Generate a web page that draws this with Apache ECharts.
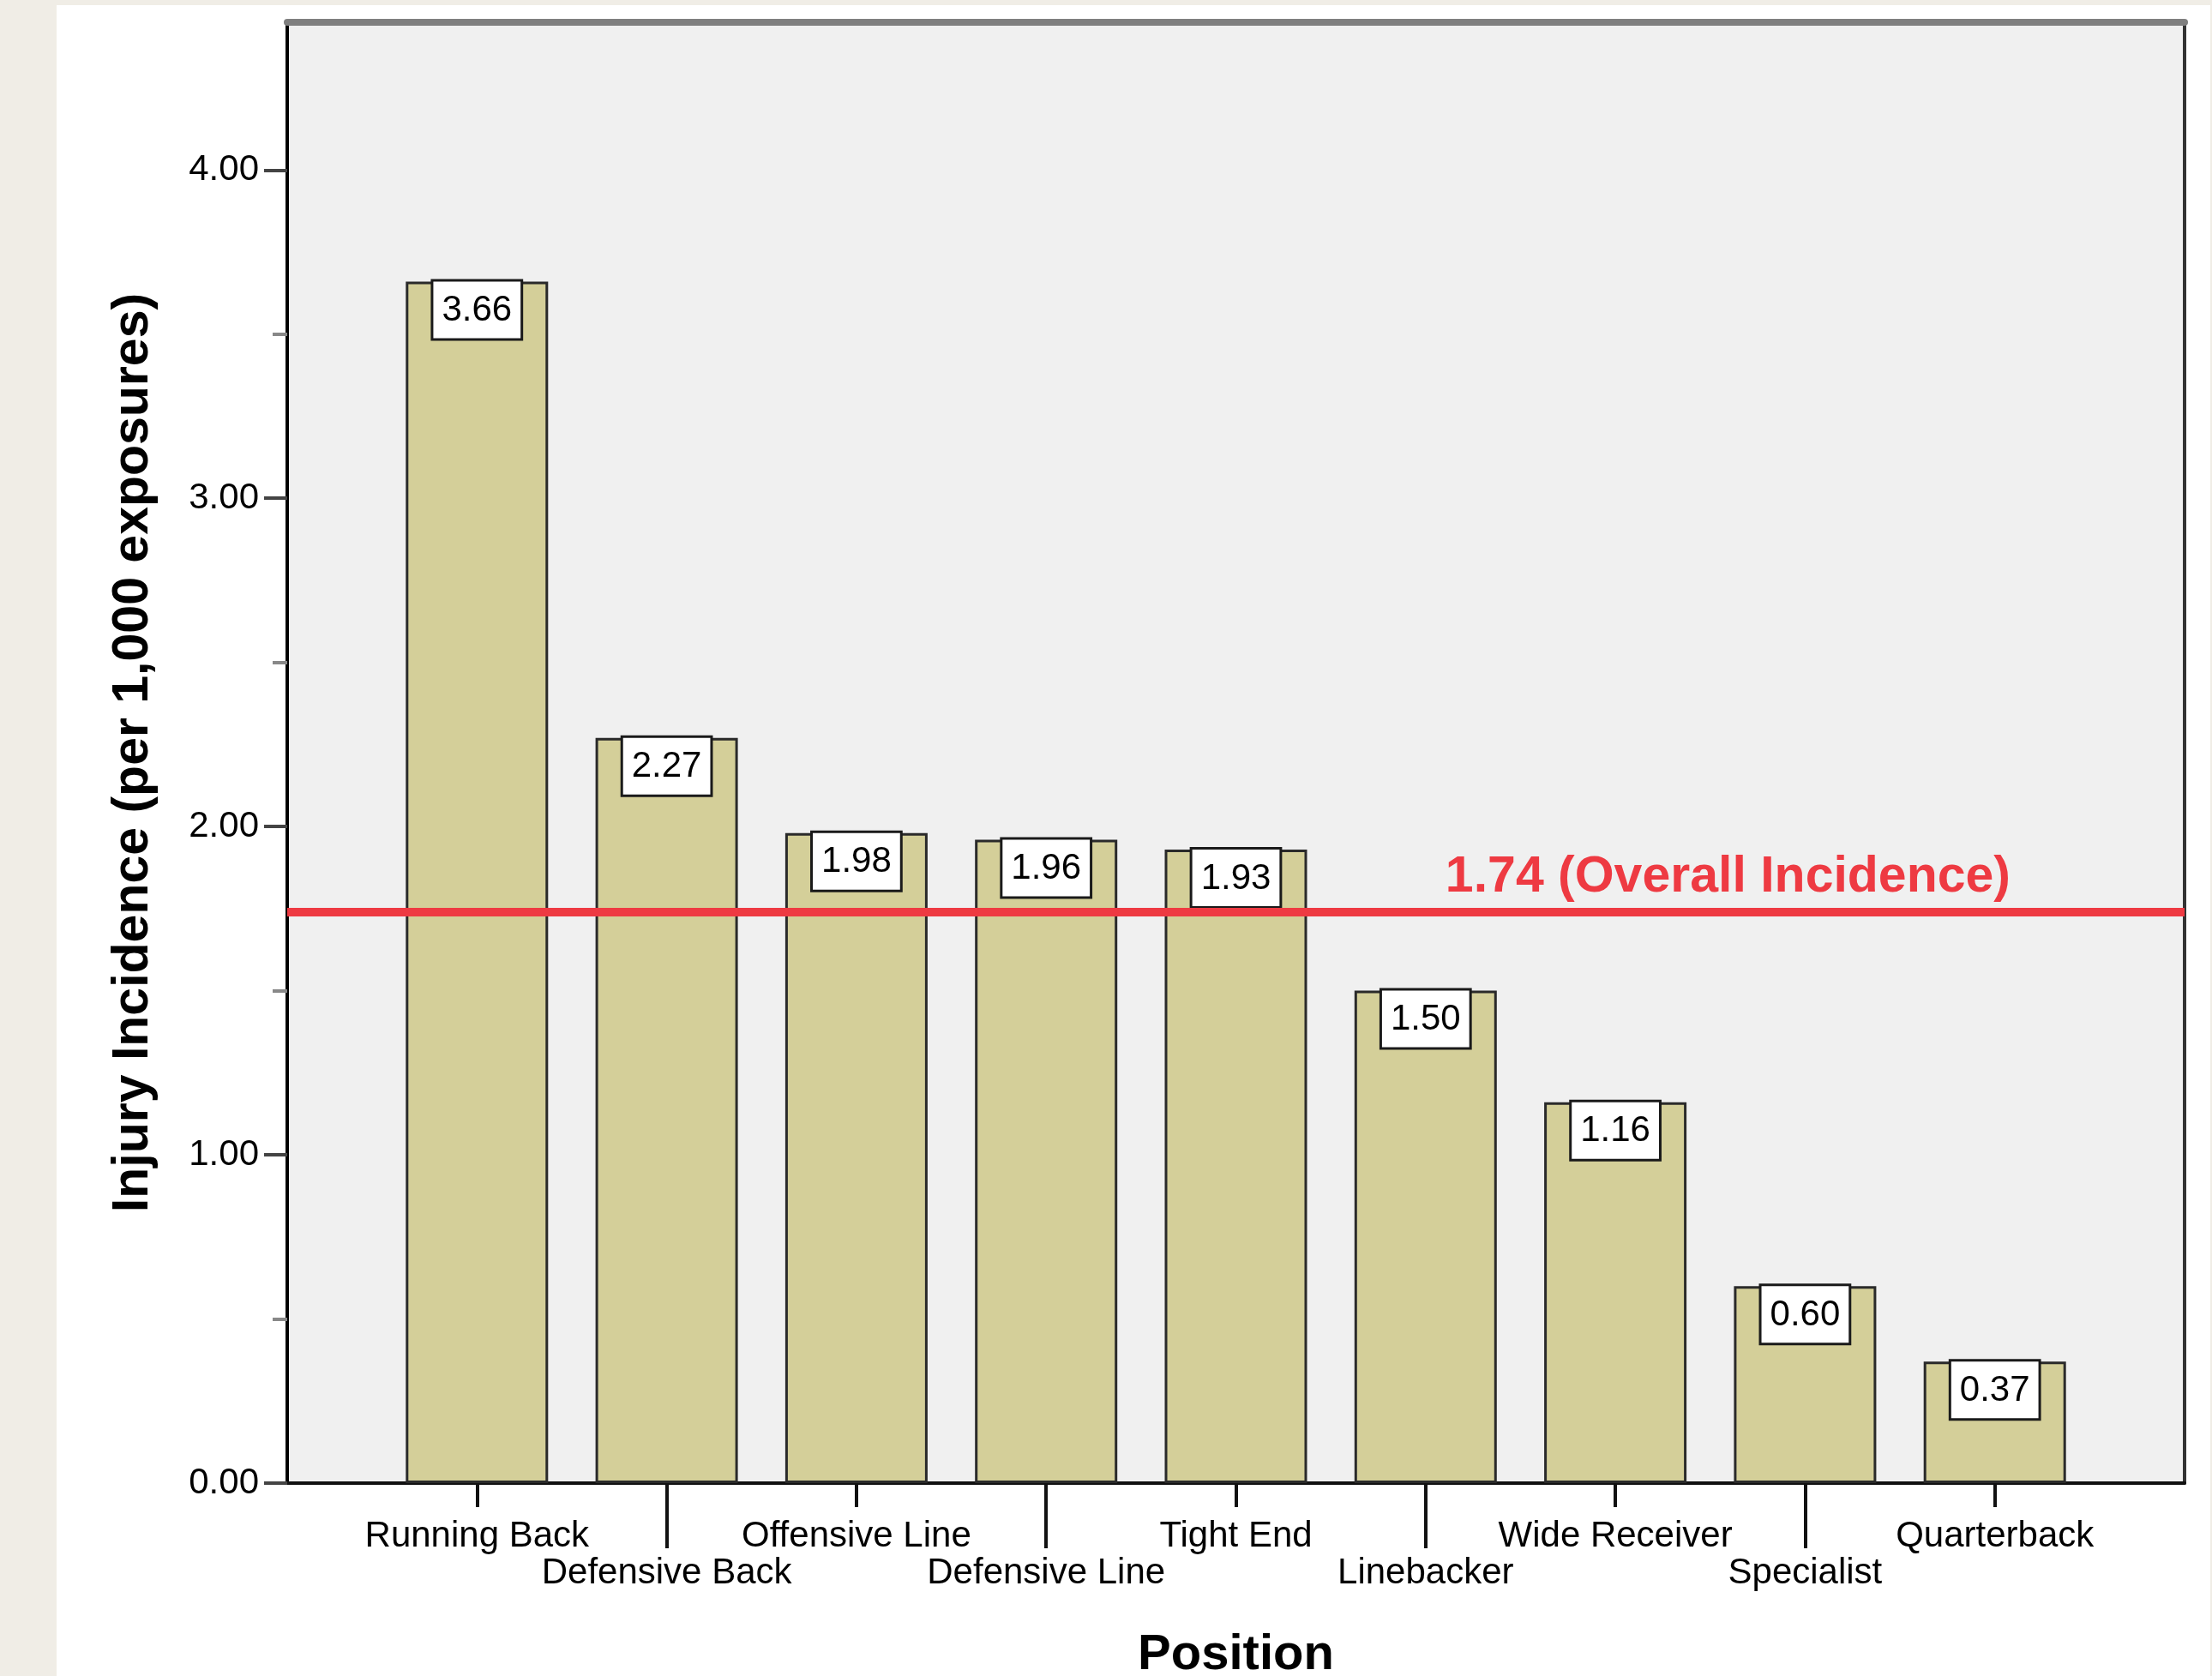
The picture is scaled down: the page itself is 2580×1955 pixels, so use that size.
<!DOCTYPE html>
<html lang="en">

<head>
    <meta charset="UTF-8" />
    <title>Injury Incidence by Position</title>
    <script src="https://cdn.jsdelivr.net/npm/echarts@6/dist/echarts.min.js"></script>
    <style>
        html, body { margin: 0; padding: 0; background: #f0ede6; }
        #main { position: absolute; left: 66px; top: 6px; width: 2512px; height: 1949px; background: #ffffff; }
    </style>
</head>

<body>
    <div id="main"></div>
    <script type="text/javascript">
        // data
        const categories = ["Running Back", "Defensive Back", "Offensive Line", "Defensive Line", "Tight End",
            "Linebacker", "Wide Receiver", "Specialist", "Quarterback"];
        const incidence = [3.66, 2.27, 1.98, 1.96, 1.93, 1.50, 1.16, 0.60, 0.37];
        const overallIncidence = 1.74;
        const yTicks = [0, 1, 2, 3, 4];
        const yMinorTicks = [0.5, 1.5, 2.5, 3.5];

        // one empty slot on each side so bars sit a full step in from the frame
        const axisData = [""].concat(categories, [""]);
        const barData = ["-"].concat(incidence, ["-"]);

        const font = "'Liberation Sans', Arial, sans-serif";
        const isUpper = (i) => i > 0 && i < axisData.length - 1 && i % 2 === 1;
        const isLower = (i) => i > 0 && i < axisData.length - 1 && i % 2 === 0;

        let myChart = echarts.init(document.getElementById("main"));
        let options = {
            animation: false,
            textStyle: { fontFamily: font },
            grid: {
                left: 269, right: 30, top: 20, bottom: 225,
                outerBoundsMode: "none", containLabel: false,
                show: true, backgroundColor: "#f0f0f0", borderWidth: 0
            },
            xAxis: [
                {
                    type: "category", data: axisData, boundaryGap: false, position: "bottom",
                    axisLine: { onZero: false, lineStyle: { color: "#111", width: 4 } },
                    axisTick: { interval: (i) => isUpper(i), length: 28, lineStyle: { color: "#111", width: 4 } },
                    axisLabel: { interval: (i) => isUpper(i), margin: 41, fontSize: 42, color: "#000", fontFamily: font },
                    name: "Position", nameLocation: "middle", nameGap: 172,
                    nameTextStyle: { fontSize: 58, fontWeight: "bold", color: "#000", fontFamily: font }
                },
                {
                    type: "category", data: axisData, boundaryGap: false, position: "bottom",
                    axisLine: { show: false, onZero: false },
                    axisTick: { interval: (i) => isLower(i), length: 76, lineStyle: { color: "#111", width: 4 } },
                    axisLabel: { interval: (i) => isLower(i), margin: 84, fontSize: 42, color: "#000", fontFamily: font }
                },
                {
                    type: "category", data: axisData, boundaryGap: false, position: "top",
                    axisLine: { onZero: false, lineStyle: { color: "#7f7f7f", width: 8 } },
                    axisTick: { show: false }, axisLabel: { show: false }
                }
            ],
            yAxis: [
                {
                    type: "value", min: 0, max: 4.45, position: "left",
                    axisLine: { show: true, onZero: false, lineStyle: { color: "#000", width: 4 } },
                    axisTick: { show: true, customValues: yTicks, length: 27, lineStyle: { color: "#444", width: 4 } },
                    axisLabel: {
                        customValues: yTicks, margin: 33, fontSize: 42, color: "#000", fontFamily: font,
                        padding: [5, 0, 0, 0],
                        formatter: (v) => v.toFixed(2)
                    },
                    splitLine: { show: false },
                    name: "Injury Incidence (per 1,000 exposures)", nameLocation: "middle", nameGap: 150,
                    nameTextStyle: { fontSize: 59, fontWeight: "bold", color: "#000", fontFamily: font }
                },
                {
                    type: "value", min: 0, max: 4.45, position: "left",
                    axisLine: { show: false, onZero: false },
                    axisTick: { show: true, customValues: yMinorTicks, length: 17, lineStyle: { color: "#888", width: 4 } },
                    axisLabel: { show: false },
                    splitLine: { show: false }
                },
                {
                    type: "value", min: 0, max: 4.45, position: "right",
                    axisLine: { show: true, onZero: false, lineStyle: { color: "#333", width: 4 } },
                    axisTick: { show: false }, axisLabel: { show: false },
                    splitLine: { show: false }
                }
            ],
            series: [
                {
                    name: "Injury incidence",
                    type: "bar",
                    xAxisIndex: 0,
                    yAxisIndex: 0,
                    data: barData,
                    barWidth: 166,
                    itemStyle: { color: "#d4cf99", borderColor: "#2a2a2a", borderWidth: 3 },
                    label: {
                        show: true, position: "insideTop", distance: 0,
                        formatter: (p) => p.value.toFixed(2),
                        fontSize: 42, color: "#000", fontFamily: font, lineHeight: 44,
                        backgroundColor: "#fff", borderColor: "#1a1a1a", borderWidth: 3,
                        padding: [12, 10, 10, 10]
                    },
                    markLine: {
                        silent: true,
                        symbol: ["none", "none"],
                        lineStyle: { color: "#ee3a42", width: 10, type: "solid" },
                        label: {
                            position: "insideEndTop", distance: [203, 10],
                            formatter: "{c} (Overall Incidence)",
                            color: "#ee3a42", fontSize: 59, fontWeight: "bold", fontFamily: font
                        },
                        data: [{ yAxis: overallIncidence }]
                    }
                }
            ]
        };
        myChart.setOption(options);
    </script>
</body>

</html>
